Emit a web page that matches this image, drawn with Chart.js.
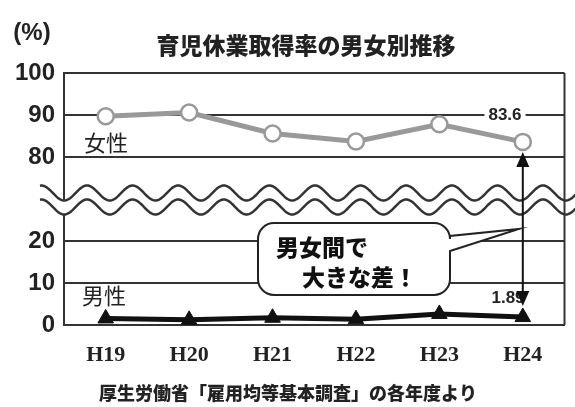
<!DOCTYPE html>
<html>
<head>
<meta charset="utf-8">
<script src="https://cdn.jsdelivr.net/npm/chart.js@4.4.0/dist/chart.umd.min.js"></script>
<style>
body{margin:0;background:#fff;}
#wrap{width:575px;height:407px;}
</style>
</head>
<body>
<div id="wrap"><canvas id="chart" width="575" height="407"></canvas></div>
<script>
/* DATA */
const years = ['H19', 'H20', 'H21', 'H22', 'H23', 'H24'];
const femaleRate = [89.7, 90.6, 85.6, 83.7, 87.8, 83.6];
const maleRate = [1.56, 1.23, 1.72, 1.38, 2.63, 1.89];
const tickValues = [0, 10, 20, 80, 90, 100];

const titleText = '育児休業取得率の男女別推移';
const sourceText = '厚生労働省「雇用均等基本調査」の各年度より';

/* axis break: 20..80 squeezed into 20 axis units */
const breakLow = 20, breakHigh = 80, breakGap = 20;
function toAxis(v){ return v >= breakHigh ? v - (breakHigh - breakLow - breakGap) : v; }
function fromAxis(d){ return d > breakLow + breakGap / 2 ? d + (breakHigh - breakLow - breakGap) : d; }

const JP = '"Noto Sans CJK JP", sans-serif';

function waveY(x, yc, amp){
  return yc - amp * Math.cos(2 * Math.PI * (x - 87) / 45.6);
}

/* wavy break lines */
const breakPlugin = {
  id: 'breakLines',
  beforeDatasetsDraw(chart){
    const ctx = chart.ctx;
    const y = chart.scales.y;
    const mid = y.getPixelForValue(toAxis(breakLow) + breakGap / 2);
    const yTop = mid - 6, yBot = mid + 8, amp = 7.5;
    const x0 = 40, x1 = 576;
    ctx.save();
    ctx.beginPath();
    for(let x = x0; x <= x1; x++) ctx.lineTo(x, waveY(x, yTop, amp));
    for(let x = x1; x >= x0; x--) ctx.lineTo(x, waveY(x, yBot, amp));
    ctx.closePath();
    ctx.fillStyle = '#fff';
    ctx.fill();
    ctx.strokeStyle = '#333';
    ctx.lineWidth = 2.5;
    [yTop, yBot].forEach(yc => {
      ctx.beginPath();
      for(let x = x0; x <= x1; x++) ctx.lineTo(x, waveY(x, yc, amp));
      ctx.stroke();
    });
    ctx.restore();
  }
};

/* texts, arrow and bubble */
const notePlugin = {
  id: 'notes',
  beforeDraw(chart){
    const ctx = chart.ctx;
    ctx.save();
    ctx.fillStyle = '#fff';
    ctx.fillRect(0, 0, chart.width, chart.height);
    ctx.restore();
  },
  afterDraw(chart){
    const ctx = chart.ctx;
    const xs = chart.scales.x, ys = chart.scales.y;
    const area = chart.chartArea;
    ctx.save();

    // right frame
    ctx.strokeStyle = '#333';
    ctx.lineWidth = 2;
    ctx.beginPath();
    ctx.moveTo(area.right, area.top);
    ctx.lineTo(area.right, area.bottom);
    ctx.stroke();

    ctx.fillStyle = '#222';
    ctx.textBaseline = 'middle';

    // title, unit, source
    ctx.textAlign = 'center';
    ctx.font = '900 23px ' + JP;
    ctx.fillText(titleText, 306, 45);
    ctx.font = 'bold 24px "Liberation Sans", sans-serif';
    ctx.fillText('(%)', 32, 33);
    ctx.font = '900 18px ' + JP;
    ctx.fillText(sourceText, 288, 393);

    // series names
    ctx.textAlign = 'left';
    ctx.font = '22px ' + JP;
    ctx.fillText('女性', 84, 143);
    ctx.fillText('男性', 82, 296);

    // last values
    const last = years.length - 1;
    const xLast = xs.getPixelForValue(last);
    ctx.font = 'bold 17px "Liberation Sans Narrow", "Liberation Sans", sans-serif';
    ctx.textAlign = 'center';
    const fLabel = femaleRate[last].toFixed(1);
    const y90 = ys.getPixelForValue(toAxis(90));
    const w = ctx.measureText(fLabel).width;
    ctx.fillStyle = '#fff';
    ctx.fillRect(505 - w / 2 - 4, y90 - 4, w + 8, 8);
    ctx.fillStyle = '#222';
    ctx.fillText(fLabel, 505, y90);
    ctx.fillText(maleRate[last].toFixed(2), 508, 298);

    // double arrow
    const yF = ys.getPixelForValue(toAxis(femaleRate[last])) + 10;
    const yM = ys.getPixelForValue(toAxis(maleRate[last])) - 11;
    ctx.strokeStyle = '#111';
    ctx.fillStyle = '#111';
    ctx.lineWidth = 2;
    ctx.beginPath();
    ctx.moveTo(xLast, yF + 10);
    ctx.lineTo(xLast, yM - 10);
    ctx.stroke();
    ctx.beginPath();
    ctx.moveTo(xLast, yF);
    ctx.lineTo(xLast - 6.5, yF + 15);
    ctx.lineTo(xLast + 6.5, yF + 15);
    ctx.closePath();
    ctx.fill();
    ctx.beginPath();
    ctx.moveTo(xLast, yM);
    ctx.lineTo(xLast - 6.5, yM - 15);
    ctx.lineTo(xLast + 6.5, yM - 15);
    ctx.closePath();
    ctx.fill();

    // speech bubble
    const bx0 = 258, bx1 = 450, by0 = 223, by1 = 295, r = 16;
    ctx.beginPath();
    ctx.moveTo(bx0 + r, by0);
    ctx.lineTo(bx1 - r, by0);
    ctx.arcTo(bx1, by0, bx1, by0 + r, r);
    ctx.lineTo(bx1, 236);
    ctx.lineTo(xLast - 4, 229);
    ctx.lineTo(bx1, 251);
    ctx.lineTo(bx1, by1 - r);
    ctx.arcTo(bx1, by1, bx1 - r, by1, r);
    ctx.lineTo(bx0 + r, by1);
    ctx.arcTo(bx0, by1, bx0, by1 - r, r);
    ctx.lineTo(bx0, by0 + r);
    ctx.arcTo(bx0, by0, bx0 + r, by0, r);
    ctx.closePath();
    ctx.fillStyle = '#fff';
    ctx.fill();
    ctx.strokeStyle = '#222';
    ctx.lineWidth = 2;
    ctx.stroke();

    ctx.fillStyle = '#111';
    ctx.textAlign = 'left';
    ctx.font = '900 23px ' + JP;
    ctx.fillText('男女間で', 276, 247);
    ctx.fillText('大きな差！', 302, 277);

    ctx.restore();
  }
};

new Chart(document.getElementById('chart'), {
  type: 'line',
  data: {
    labels: years,
    datasets: [{
      label: '女性',
      data: femaleRate.map(toAxis),
      borderColor: '#999',
      borderWidth: 5,
      pointStyle: 'circle',
      pointRadius: 8,
      pointBackgroundColor: '#fff',
      pointBorderColor: '#999',
      pointBorderWidth: 2.5,
      tension: 0
    }, {
      label: '男性',
      data: maleRate.map(toAxis),
      borderColor: '#111',
      borderWidth: 5,
      pointStyle: 'triangle',
      pointRadius: 9,
      pointBackgroundColor: '#111',
      pointBorderColor: '#111',
      pointBorderWidth: 1,
      tension: 0
    }]
  },
  options: {
    responsive: false,
    animation: false,
    devicePixelRatio: 1,
    layout: { padding: { top: 73, right: 2, left: 0, bottom: 0 } },
    plugins: {
      legend: { display: false },
      tooltip: { enabled: false }
    },
    scales: {
      x: {
        offset: true,
        afterFit(s){ s.height = 82; },
        grid: { display: false, drawTicks: false },
        border: { display: true, color: '#333', width: 2 },
        ticks: {
          color: '#222',
          padding: 17,
          font: { family: '"Liberation Serif", serif', weight: 'bold', size: 22 }
        }
      },
      y: {
        min: 0,
        max: toAxis(100),
        afterFit(s){ s.width = 64; },
        afterBuildTicks(s){ s.ticks = tickValues.map(v => ({ value: toAxis(v) })); },
        grid: { color: '#333', lineWidth: 2, drawTicks: false },
        border: { display: true, color: '#333', width: 2 },
        ticks: {
          color: '#222',
          padding: 9,
          font: { family: '"Liberation Sans", sans-serif', weight: 'bold', size: 24 },
          callback: (value) => fromAxis(value)
        }
      }
    }
  },
  plugins: [breakPlugin, notePlugin]
});
</script>
</body>
</html>
